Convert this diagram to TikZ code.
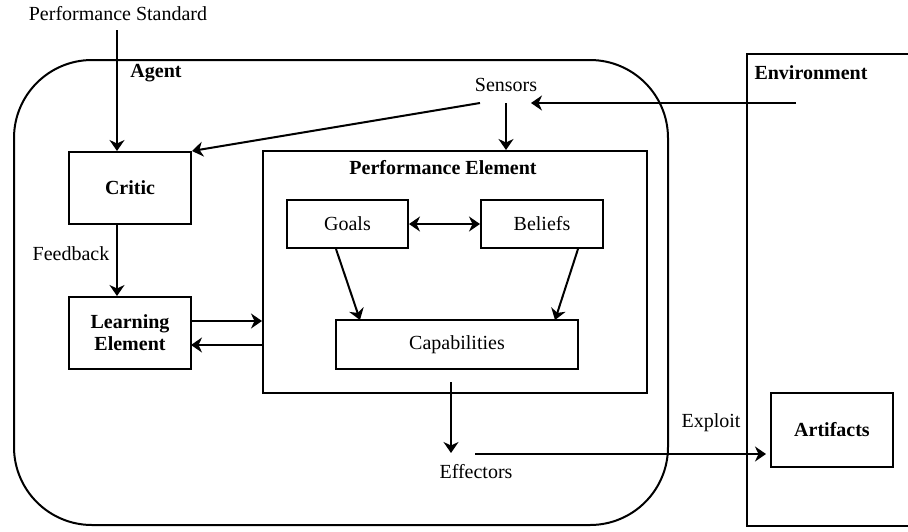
\documentclass[tikz,border=0pt]{standalone}
\usepackage{fontspec}
\setmainfont{Liberation Serif}
\usetikzlibrary{arrows.meta}
\begin{document}
\begin{tikzpicture}[x=1pt,y=-1pt,
  line width=2pt,
  every node/.style={font=\fontsize{20}{22}\selectfont},
  box/.style={draw, line width=2pt, inner sep=0pt},
  lbl/.style={inner sep=0pt},
  arr/.style={-{Stealth[length=11pt,width=15pt,inset=3.5pt]}},
  darr/.style={{Stealth[length=11pt,width=15pt,inset=3.5pt]}-{Stealth[length=11pt,width=15pt,inset=3.5pt]}}
]
\useasboundingbox (0,0) rectangle (908,531);

% Agent container
\node[box, rounded corners=78pt, minimum width=654pt, minimum height=465pt] (agent) at (341,292.5) {};
\node[lbl, font=\fontsize{20}{22}\selectfont\bfseries] (agentlbl) at (156,73) {Agent};

% Environment (partially visible)
\coordinate (envtr) at (908,54);
\coordinate (envtl) at (747,54);
\coordinate (envbl) at (747,526);
\coordinate (envbr) at (908,526);
\draw (envtr) -- (envtl) -- (envbl) -- (envbr);
\node[lbl, font=\fontsize{20}{22}\selectfont\bfseries] (envlbl) at (811,73) {Environment};

% Texts
\node[lbl] (ps) at (118,14) {Performance Standard};
\node[lbl] (sensors) at (506,85) {Sensors};
\node[lbl] (feedback) at (71,254) {Feedback};
\node[lbl] (effectors) at (476,472) {Effectors};
\node[lbl] (exploit) at (711,423) {Exploit};

% Boxes
\node[box, minimum width=122pt, minimum height=72pt, font=\fontsize{20}{22}\selectfont\bfseries] (critic) at (130,188) {Critic};
\node[box, minimum width=122pt, minimum height=72pt, align=center, font=\fontsize{20}{22}\selectfont\bfseries] (learn) at (130,333) {Learning\\Element};
\node[box, minimum width=384pt, minimum height=242pt] (perf) at (455,272) {};
\node[lbl, font=\fontsize{20}{22}\selectfont\bfseries] (perflbl) at (443,168) {Performance Element};
\node[box, minimum width=121pt, minimum height=48pt] (goals) at (347.5,224) {Goals};
\node[box, minimum width=122pt, minimum height=48pt] (beliefs) at (542,224) {Beliefs};
\node[box, minimum width=242pt, minimum height=49pt] (cap) at (457,344.5) {Capabilities};
\node[box, minimum width=122pt, minimum height=74pt, font=\fontsize{20}{22}\selectfont\bfseries] (artifacts) at (832,430) {Artifacts};

% Connector endpoints
\coordinate (psstart) at (117,30);
\coordinate (sensL) at (480,103);
\coordinate (sensD) at (506,103);
\coordinate (envsrc) at (796,103);
\coordinate (sensR) at (531,103);
\coordinate (effstart) at (451,382);
\coordinate (effend) at (451,453);
\coordinate (expstart) at (475,454);
\coordinate (expend) at (766,454);
\coordinate (lrow1) at (191,321);
\coordinate (lrow2) at (191,345);

% Connectors
\draw[arr] (psstart) -- (psstart |- critic.north);
\draw[arr] (sensL) -- (critic.north east);
\draw[arr] (sensD) -- (sensD |- perf.north);
\draw[arr] (envsrc) -- (sensR);
\draw[arr] (critic.south -| psstart) -- (learn.north -| psstart);
\draw[arr] (lrow1) -- (lrow1 -| perf.west);
\draw[arr] (lrow2 -| perf.west) -- (lrow2);
\draw[darr] (goals.east) -- (beliefs.west);
\draw[arr] ([xshift=-11.5pt]goals.south) -- (360,320);
\draw[arr] ([xshift=36pt]beliefs.south) -- (555,320);
\draw[arr] (effstart) -- (effend);
\draw[arr] (expstart) -- (expend);
\end{tikzpicture}
\end{document}
